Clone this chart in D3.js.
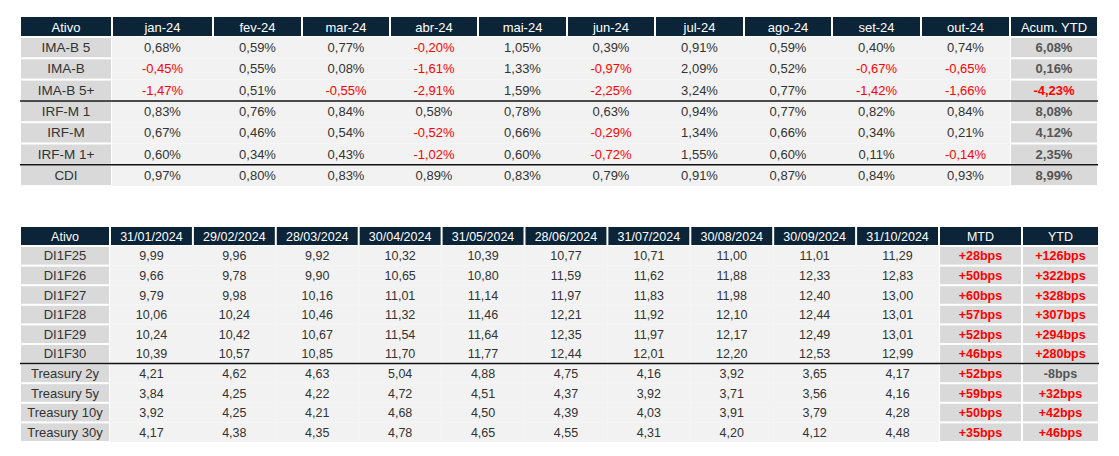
<!DOCTYPE html>
<html><head><meta charset="utf-8">
<script src="https://cdn.jsdelivr.net/npm/d3@7"></script>
<style>body{margin:0;background:#fff;font-family:"Liberation Sans",Arial,sans-serif;}</style>
</head><body>
<script>
// table 1: monthly returns
var months = ["jan-24","fev-24","mar-24","abr-24","mai-24","jun-24","jul-24","ago-24","set-24","out-24"];
var assets1 = ["IMA-B 5","IMA-B","IMA-B 5+","IRF-M 1","IRF-M","IRF-M 1+","CDI"];
var returns = [
  [0.68,0.59,0.77,-0.20,1.05,0.39,0.91,0.59,0.40,0.74],
  [-0.45,0.55,0.08,-1.61,1.33,-0.97,2.09,0.52,-0.67,-0.65],
  [-1.47,0.51,-0.55,-2.91,1.59,-2.25,3.24,0.77,-1.42,-1.66],
  [0.83,0.76,0.84,0.58,0.78,0.63,0.94,0.77,0.82,0.84],
  [0.67,0.46,0.54,-0.52,0.66,-0.29,1.34,0.66,0.34,0.21],
  [0.60,0.34,0.43,-1.02,0.60,-0.72,1.55,0.60,0.11,-0.14],
  [0.97,0.80,0.83,0.89,0.83,0.79,0.91,0.87,0.84,0.93]
];
var ytd1 = [6.08,0.16,-4.23,8.08,4.12,2.35,8.99];

// table 2: rates
var dates = ["31/01/2024","29/02/2024","28/03/2024","30/04/2024","31/05/2024","28/06/2024","31/07/2024","30/08/2024","30/09/2024","31/10/2024"];
var assets2 = ["DI1F25","DI1F26","DI1F27","DI1F28","DI1F29","DI1F30","Treasury 2y","Treasury 5y","Treasury 10y","Treasury 30y"];
var rates = [
  [9.99,9.96,9.92,10.32,10.39,10.77,10.71,11.00,11.01,11.29],
  [9.66,9.78,9.90,10.65,10.80,11.59,11.62,11.88,12.33,12.83],
  [9.79,9.98,10.16,11.01,11.14,11.97,11.83,11.98,12.40,13.00],
  [10.06,10.24,10.46,11.32,11.46,12.21,11.92,12.10,12.44,13.01],
  [10.24,10.42,10.67,11.54,11.64,12.35,11.97,12.17,12.49,13.01],
  [10.39,10.57,10.85,11.70,11.77,12.44,12.01,12.20,12.53,12.99],
  [4.21,4.62,4.63,5.04,4.88,4.75,4.16,3.92,3.65,4.17],
  [3.84,4.25,4.22,4.72,4.51,4.37,3.92,3.71,3.56,4.16],
  [3.92,4.25,4.21,4.68,4.50,4.39,4.03,3.91,3.79,4.28],
  [4.17,4.38,4.35,4.78,4.65,4.55,4.31,4.20,4.12,4.48]
];
var mtd = [28,50,60,57,52,46,52,59,50,35];
var ytd2 = [126,322,328,307,294,280,-8,32,42,46];

var svg = d3.select("body").append("svg").attr("width",1119).attr("height",456);
var navy = "#0b2437", red = "#ff0000", txt = "#333";
var fmt = function(v, d){ return v.toFixed(d).replace(".", ","); };

function drawTable(cfg){
  var g = svg.append("g");
  var y = d3.scaleLinear().domain([0, cfg.rows.length]).range([cfg.top + cfg.hh, cfg.top + cfg.hh + cfg.rh*cfg.rows.length]);
  var ncol = cfg.edges.length - 1;
  // header
  cfg.header.forEach(function(h,i){
    g.append("rect").attr("x",cfg.edges[i]+1).attr("y",cfg.top).attr("width",cfg.edges[i+1]-cfg.edges[i]-2).attr("height",cfg.hh-1).attr("fill",navy);
    g.append("text").attr("x",(cfg.edges[i]+cfg.edges[i+1])/2).attr("y",cfg.top+cfg.hh/2+4.5)
      .attr("text-anchor","middle").attr("fill","#fff").style("font-size",cfg.fs+"px").text(h);
  });
  cfg.rows.forEach(function(r,ri){
    var cells = cfg.cells(ri);
    cells.forEach(function(c,ci){
      var x0 = cfg.edges[ci], x1 = cfg.edges[ci+1];
      var grey = ci===0 || ci>=cfg.greyFrom;
      var inner = !grey && ci>0;
      g.append("rect").attr("x", inner ? x0 : x0+1).attr("y", y(ri)+(inner?0:1))
        .attr("width", inner ? x1-x0 : x1-x0-2).attr("height", inner ? cfg.rh : cfg.rh-2)
        .attr("fill", grey ? "#d9d9d9" : "#f2f2f2");
      g.append("text").attr("x",(x0+x1)/2).attr("y",y(ri)+cfg.rh/2+4.5)
        .attr("text-anchor","middle").attr("fill",c.red ? red : (c.grey ? "#555" : txt))
        .style("font-size", (ci===0 ? cfg.fs+0.5 : cfg.fs)+"px").style("font-weight", c.bold ? "bold" : "normal")
        .text(c.t);
    });
  });
  cfg.seps.forEach(function(s){
    g.append("line").attr("x1",cfg.edges[0]).attr("x2",cfg.edges[ncol]).attr("y1",y(s)).attr("y2",y(s))
      .attr("stroke","#111").attr("stroke-width",1.5);
  });
}

var e1 = [20,112,213,302,390,478,567,655,744,832,921,1010,1098];
drawTable({
  edges:e1, top:17, hh:20, rh:21.3, rows:assets1, greyFrom:11, seps:[3,6], fs:13,
  header:["Ativo"].concat(months).concat(["Acum. YTD"]),
  cells:function(ri){
    var out=[{t:assets1[ri]}];
    returns[ri].forEach(function(v){ out.push({t:fmt(v,2)+"%", red:v<0}); });
    out.push({t:fmt(ytd1[ri],2)+"%", red:ytd1[ri]<0, bold:true, grey:true});
    return out;
  }
});

var e2 = [20,110].concat(d3.range(1,10).map(function(i){return 110+i*82.9;})).concat([939,1022,1099]);
drawTable({
  edges:e2, top:227, hh:19, rh:19.6, rows:assets2, greyFrom:11, seps:[6], fs:12.5,
  header:["Ativo"].concat(dates).concat(["MTD","YTD"]),
  cells:function(ri){
    var out=[{t:assets2[ri]}];
    rates[ri].forEach(function(v){ out.push({t:fmt(v,2)}); });
    var b = function(v){ return (v>0?"+":"")+v+"bps"; };
    out.push({t:b(mtd[ri]), red:mtd[ri]>0, bold:true, grey:true});
    out.push({t:b(ytd2[ri]), red:ytd2[ri]>0, bold:true, grey:true});
    return out;
  }
});
</script>
</body></html>
